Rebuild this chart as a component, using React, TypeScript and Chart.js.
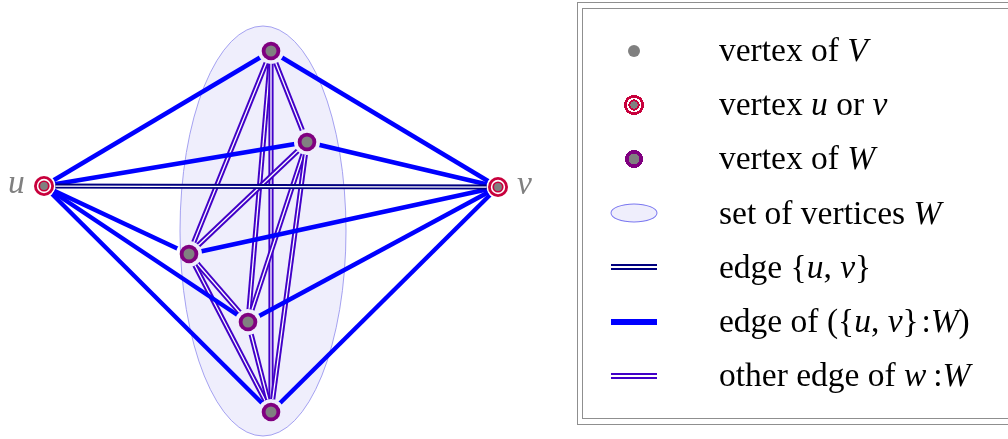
import React, { useEffect, useRef } from 'react';
import { Chart, registerables } from 'chart.js';

Chart.register(...registerables);

// ---------- data ----------
const NODE_IDS = ['u', 'v', 'w1', 'w2', 'w3', 'w4', 'w5'];
const NODE_X = [44, 498, 271, 307, 189, 248, 271];
const NODE_Y = [186, 187, 51, 142, 254, 322, 412];
const NODE_KIND = ['uv', 'uv', 'w', 'w', 'w', 'w', 'w'];
const NODE_LABELS = ['u', 'v'];

const EDGES_UV = [['u', 'v']];
const EDGES_UW = [
  ['u', 'w1'], ['u', 'w2'], ['u', 'w3'], ['u', 'w4'], ['u', 'w5'],
  ['v', 'w1'], ['v', 'w2'], ['v', 'w3'], ['v', 'w4'], ['v', 'w5'],
];
const EDGES_WW = [
  ['w1', 'w2'], ['w1', 'w3'], ['w1', 'w4'], ['w1', 'w5'],
  ['w2', 'w3'], ['w2', 'w4'], ['w2', 'w5'],
  ['w3', 'w4'], ['w3', 'w5'],
  ['w4', 'w5'],
];
// set W drawn as ellipse (centre x, centre y, radius x, radius y)
const SET_W_CENTER = [263, 231];
const SET_W_RADII = [83, 205];

const LEGEND_SYMBOLS = ['vertexV', 'vertexUV', 'vertexW', 'setW', 'edgeUV', 'edgeUW', 'edgeWW'];
const LEGEND_LABELS: [string, boolean][][] = [
  [['vertex of ', false], ['V', true]],
  [['vertex ', false], ['u', true], [' or ', false], ['v', true]],
  [['vertex of ', false], ['W', true]],
  [['set of vertices ', false], ['W', true]],
  [['edge {', false], ['u', true], [', ', false], ['v', true], ['}', false]],
  [['edge of ({', false], ['u', true], [', ', false], ['v', true], ['}\u200A:', false], ['W', true], [')', false]],
  [['other edge of ', false], ['w', true], ['\u2009:', false], ['W', true]],
];

// ---------- styles ----------
const GRAY = '#808080';
const CRIMSON = '#C8003C';
const PURPLE = '#800080';
const NAVY = '#00007F';
const BLUE = '#0000FF';
const INDIGO = '#4200C8';
const SET_FILL = '#EFEEFC';
const SET_STROKE = '#8F8CEE';
const FONT = '"Liberation Serif", "Times New Roman", serif';
const W = 1008;
const H = 439;

const idx = (id: string) => NODE_IDS.indexOf(id);

function edgeDatasets(edges: string[][], color: string, width: number, double: boolean) {
  const out: any[] = [];
  edges.forEach((e) => {
    const data = e.map((id) => ({ x: NODE_X[idx(id)], y: NODE_Y[idx(id)] }));
    const base = { data, showLine: true, pointRadius: 0, pointHoverRadius: 0, fill: false, tension: 0, isEdge: true };
    out.push({ ...base, borderColor: color, borderWidth: width });
    if (double) out.push({ ...base, borderColor: '#FFFFFF', borderWidth: width * 0.25 });
  });
  return out;
}

function nodeLayers(kind: string, layers: [number, string][]) {
  const data = NODE_IDS.map((id, i) => ({ id, i }))
    .filter((n) => NODE_KIND[n.i] === kind)
    .map((n) => ({ x: NODE_X[n.i], y: NODE_Y[n.i] }));
  return layers.map(([r, c]) => ({
    data,
    showLine: false,
    pointRadius: r,
    pointHoverRadius: r,
    pointBackgroundColor: c,
    pointBorderWidth: 0,
    pointHoverBorderWidth: 0,
  }));
}

const setPlugin = {
  id: 'setW',
  beforeDatasetsDraw(chart: any) {
    const { ctx, scales } = chart;
    const cx = scales.x.getPixelForValue(SET_W_CENTER[0]);
    const cy = scales.y.getPixelForValue(SET_W_CENTER[1]);
    const rx = Math.abs(scales.x.getPixelForValue(SET_W_CENTER[0] + SET_W_RADII[0]) - cx);
    const ry = Math.abs(scales.y.getPixelForValue(SET_W_CENTER[1] + SET_W_RADII[1]) - cy);
    ctx.save();
    ctx.beginPath();
    ctx.ellipse(cx, cy, rx, ry, 0, 0, Math.PI * 2);
    ctx.fillStyle = SET_FILL;
    ctx.fill();
    ctx.lineWidth = 0.8;
    ctx.strokeStyle = SET_STROKE;
    ctx.stroke();
    ctx.restore();
  },
};

const gapPlugin = {
  id: 'edgeGap',
  beforeDatasetDraw(chart: any, args: any) {
    const ds = chart.data.datasets[args.index];
    if (!ds.isEdge) return;
    const { ctx, scales } = chart;
    ctx.save();
    ctx.beginPath();
    ctx.rect(0, 0, chart.width, chart.height);
    NODE_IDS.forEach((_, i) => {
      const px = scales.x.getPixelForValue(NODE_X[i]);
      const py = scales.y.getPixelForValue(NODE_Y[i]);
      const r = NODE_KIND[i] === 'uv' ? 11.5 : 13;
      ctx.moveTo(px + r, py);
      ctx.arc(px, py, r, 0, Math.PI * 2);
    });
    ctx.clip('evenodd');
  },
  afterDatasetDraw(chart: any, args: any) {
    const ds = chart.data.datasets[args.index];
    if (!ds.isEdge) return;
    chart.ctx.restore();
  },
};

function LegendSymbol({ kind }: { kind: string }) {
  const c: React.CSSProperties = { position: 'absolute', left: 0, top: 0, transform: 'translate(-50%, -50%)' };
  if (kind === 'vertexV') return <div style={{ ...c, width: 12, height: 12, borderRadius: '50%', background: GRAY }} />;
  if (kind === 'vertexUV')
    return (
      <div
        style={{
          ...c, width: 21, height: 21, borderRadius: '50%',
          background: `radial-gradient(circle, ${GRAY} 0 3.8px, ${CRIMSON} 3.8px 5.6px, #fff 5.6px 7.2px, ${CRIMSON} 7.2px 10px, transparent 10px)`,
        }}
      />
    );
  if (kind === 'vertexW')
    return (
      <div
        style={{
          ...c, width: 19, height: 19, borderRadius: '50%',
          background: `radial-gradient(circle, ${GRAY} 0 5.3px, ${PURPLE} 5.3px 9px, transparent 9px)`,
        }}
      />
    );
  if (kind === 'setW')
    return <div style={{ ...c, width: 45, height: 17, borderRadius: '50%', background: SET_FILL, border: '1px solid #7B78F0' }} />;
  if (kind === 'edgeUW') return <div style={{ ...c, width: 46, height: 6, background: BLUE }} />;
  const col = kind === 'edgeUV' ? NAVY : INDIGO;
  return <div style={{ ...c, width: 46, height: 2, background: '#fff', borderTop: `2.5px solid ${col}`, borderBottom: `2.5px solid ${col}` }} />;
}

export default function App() {
  const ref = useRef<HTMLCanvasElement>(null);

  useEffect(() => {
    const drawList: any[] = [
      ...edgeDatasets(EDGES_WW, INDIGO, 5.2, true),
      ...edgeDatasets(EDGES_UW, BLUE, 4.4, false),
      ...edgeDatasets(EDGES_UV, NAVY, 5, true),
      ...nodeLayers('uv', [[10, CRIMSON], [7.2, '#FFFFFF'], [5.6, CRIMSON], [3.9, GRAY]]),
      ...nodeLayers('w', [[9.3, PURPLE], [5.5, GRAY]]),
    ];
    const n = drawList.length;
    drawList.forEach((d, i) => (d.order = n - i));

    const chart = new Chart(ref.current as HTMLCanvasElement, {
      type: 'scatter',
      data: { datasets: drawList },
      options: {
        responsive: false,
        animation: false,
        events: [],
        layout: { padding: 0, autoPadding: false },
        plugins: { legend: { display: false }, tooltip: { enabled: false } },
        scales: {
          x: { type: 'linear', min: 0, max: W, display: false },
          y: { type: 'linear', min: 0, max: H, reverse: true, display: false },
        },
      },
      plugins: [setPlugin, gapPlugin],
    });
    return () => chart.destroy();
  }, []);

  const textStyle = (baseline: number, left: number): React.CSSProperties => ({
    position: 'absolute',
    left,
    top: baseline - 31,
    height: 40,
    lineHeight: '40px',
    fontFamily: FONT,
    fontSize: 33.5,
    whiteSpace: 'nowrap',
    color: '#000',
  });

  return (
    <div style={{ position: 'absolute', left: 0, top: 0, width: W, height: H, overflow: 'hidden', background: '#fff' }}>
      <canvas ref={ref} width={W} height={H} style={{ position: 'absolute', left: 0, top: 0, width: W, height: H }} />
      {NODE_LABELS.map((lab) => {
        const i = idx(lab);
        const left = lab === 'u' ? NODE_X[i] - 36 : NODE_X[i] + 19;
        return (
          <div key={lab} style={{ ...textStyle(NODE_Y[i] + 7, left), color: GRAY, fontStyle: 'italic' }}>
            {lab}
          </div>
        );
      })}
      <div style={{ position: 'absolute', left: 577, top: 2, width: 440, height: 423, border: '1px solid #8f8f8f', boxSizing: 'border-box' }} />
      <div style={{ position: 'absolute', left: 582, top: 8, width: 440, height: 411, border: '1px solid #8f8f8f', boxSizing: 'border-box' }} />
      {LEGEND_SYMBOLS.map((k, i) => {
        const cy = 50.5 + i * 54.2;
        return (
          <React.Fragment key={k}>
            <div style={{ position: 'absolute', left: 634, top: cy, width: 0, height: 0 }}>
              <LegendSymbol kind={k} />
            </div>
            <div style={textStyle(cy + 10.5, 719)}>
              {LEGEND_LABELS[i].map(([t, it], j) => (
                <span key={j} style={{ fontStyle: it ? 'italic' : 'normal' }}>{t}</span>
              ))}
            </div>
          </React.Fragment>
        );
      })}
    </div>
  );
}
